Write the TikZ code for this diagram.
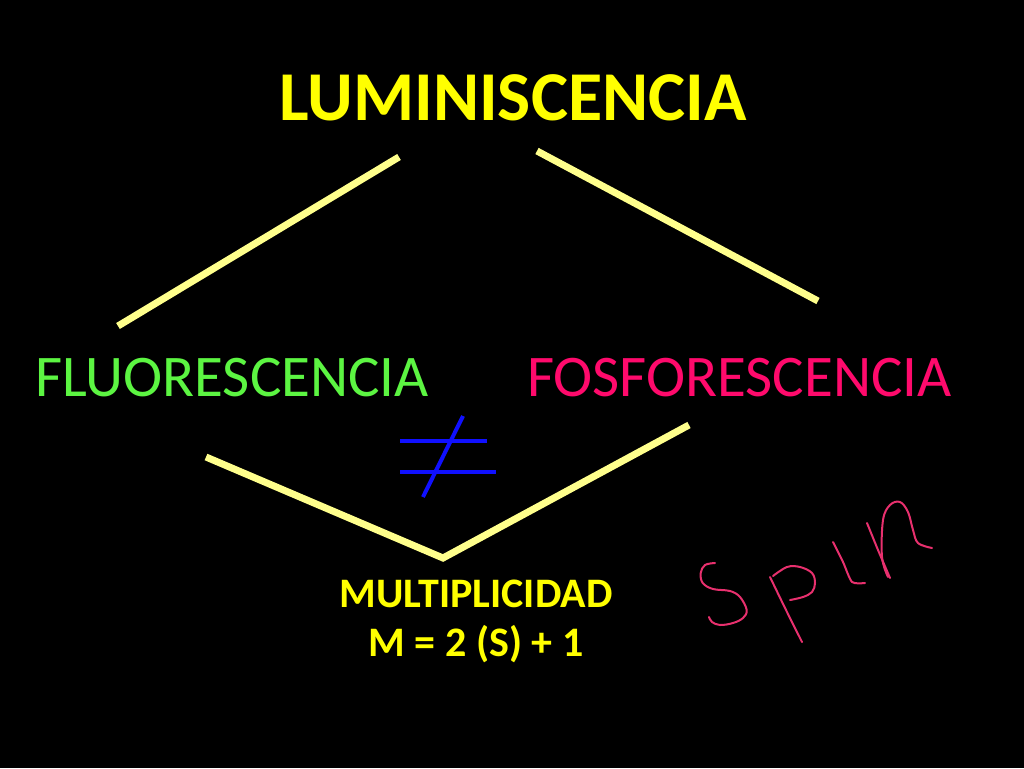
\documentclass[tikz,border=0pt]{standalone}
\usepackage{fontspec}
\setmainfont{Carlito}
\definecolor{lineyel}{HTML}{FFFF8C}
\definecolor{titleyel}{HTML}{FFFF00}
\definecolor{fgreen}{HTML}{5CF542}
\definecolor{fpink}{HTML}{FF0A6C}
\definecolor{neblue}{HTML}{1010FF}
\definecolor{spinpink}{HTML}{E8306E}
\tikzset{
  branch/.style={draw=lineyel, line width=7pt},
  neq/.style={draw=neblue, line width=4pt},
  hand/.style={draw=spinpink, line width=2pt, line cap=round, line join=round},
  lbl/.style={inner sep=0pt, anchor=base},
}
\begin{document}
\begin{tikzpicture}[x=1pt,y=-1pt]
\fill[black] (0,0) rectangle (1024,768);
\useasboundingbox (0,0) rectangle (1024,768);

\node[lbl, text=titleyel, font=\fontsize{70}{80}\selectfont\bfseries] (lum) at (513,120) {LUMINISCENCIA};
\node[lbl, anchor=base west, text=fgreen, font=\fontsize{59}{66}\selectfont] (flu) at (35,396) {FLUORESCENCIA};
\node[lbl, anchor=base west, text=fpink, font=\fontsize{59}{66}\selectfont] (fos) at (527,396) {FOSFORESCENCIA};
\node[lbl, text=titleyel, font=\fontsize{42}{48}\selectfont\bfseries] (mul) at (476,607) {MULTIPLICIDAD};
\node[lbl, text=titleyel, font=\fontsize{42}{48}\selectfont\bfseries] (eq) at (476,656) {M = 2 (S) + 1};

\coordinate (a1) at (118,326); \coordinate (a2) at (399,157);
\coordinate (b1) at (537,151); \coordinate (b2) at (818,301);
\coordinate (c1) at (206,457); \coordinate (v) at (443,558); \coordinate (c2) at (689,425);
\draw[branch] (a1) -- (a2);
\draw[branch] (b1) -- (b2);
\draw[branch] (c1) -- (v) -- (c2);

\coordinate (n1) at (400,441); \coordinate (n2) at (487,441);
\coordinate (n3) at (400,472); \coordinate (n4) at (496,472);
\coordinate (n5) at (463,416); \coordinate (n6) at (423,497);
\draw[neq] (n1) -- (n2);
\draw[neq] (n3) -- (n4);
\draw[neq] (n5) -- (n6);

% handwritten "spin"
\draw[hand] plot[smooth, tension=0.6] coordinates {(715,563) (705,565) (700.7,573) (702.7,583) (713,589) (730,591) (740,597) (746.7,610) (743,618) (733,623) (720,625) (712,622) (709,617)};
\draw[hand] plot[smooth, tension=0.5] coordinates {(770,577) (786,610) (802,642)};
\draw[hand] plot[smooth, tension=0.6] coordinates {(773,576) (787,567) (800,567) (812,573) (815,583) (812,592) (803,597) (790,600)};
\draw[hand] plot[smooth, tension=0.4] coordinates {(833,542) (843,562) (852,582) (865,583)};
\draw[hand] plot[smooth, tension=0.4] coordinates {(867,523) (878,550) (890,578)};
\draw[hand] plot[smooth, tension=0.6] coordinates {(888,577) (882,557) (883,520) (890,505) (900,502) (908,512) (913,530) (918,543) (932,548)};
\end{tikzpicture}
\end{document}
